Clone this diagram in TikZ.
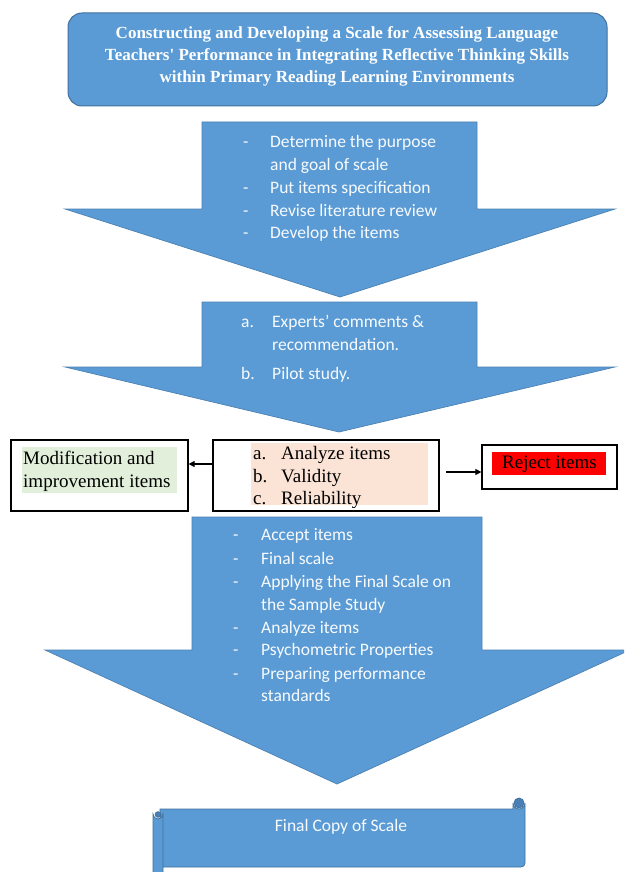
\documentclass[tikz,border=0pt]{standalone}
\usepackage{fontspec}
\setmainfont{Liberation Serif}
\newfontfamily\calibri{Carlito}
\usetikzlibrary{arrows.meta}
\definecolor{wblue}{HTML}{5B9BD5}
\definecolor{wedge}{HTML}{41719C}
\definecolor{wcurl}{HTML}{4A80B8}
\definecolor{wpink}{HTML}{FBE4D5}
\definecolor{wgreen}{HTML}{E2EFDA}
\definecolor{wred}{HTML}{FF0000}
\begin{document}
\begin{tikzpicture}[x=1pt,y=-1pt,
  bigarrow/.style={fill=wblue, draw=wedge!60!wblue, line width=0.7pt, line join=miter},
  wtext/.style={font=\calibri\fontsize{17.5}{23}\selectfont, text=white!96!wblue, anchor=base west, inner sep=0pt},
  ttext/.style={font=\fontsize{19}{23}\selectfont, anchor=base west, inner sep=0pt},
  titletext/.style={font=\bfseries\fontsize{17}{21}\selectfont, text=white, anchor=base, inner sep=0pt},
  frame/.style={draw=black, line width=1.2pt, fill=white, inner sep=0pt},
  conn/.style={line width=1.1pt, -{Triangle[length=6pt,width=6pt]}},
  scroll/.style={fill=wblue, draw=wedge, line width=0.8pt}]
\clip (0,0) rectangle (624,872);
\fill[white] (0,0) rectangle (624,872);

% title
\node[fill=wblue, draw=wedge, line width=1pt, rounded corners=14pt,
      minimum width=539pt, minimum height=93pt, inner sep=0pt] (title) at (337.5,59.5) {};
\node[titletext] (t1) at (337,39) {Constructing and Developing a Scale for Assessing Language};
\node[titletext] (t2) at (337,61) {Teachers\textquotesingle{} Performance in Integrating Reflective Thinking Skills};
\node[titletext] (t3) at (337,82.5) {within Primary Reading Learning Environments};

% arrow 1
\filldraw[bigarrow] (202,122) -- (477,122) -- (477,209) -- (615,209) -- (340,297) -- (65,209) -- (202,209) -- cycle;
\node[wtext] (a1d1) at (243,147.3) {-};
\node[wtext] (a1l1) at (270,147.3) {Determine the purpose};
\node[wtext] (a1l2) at (270,170) {and goal of scale};
\node[wtext] (a1d3) at (243,193) {-};
\node[wtext] (a1l3) at (270,193) {Put items specification};
\node[wtext] (a1d4) at (243,216) {-};
\node[wtext] (a1l4) at (270,216) {Revise literature review};
\node[wtext] (a1d5) at (243,238.5) {-};
\node[wtext] (a1l5) at (270,238.5) {Develop the items};

% arrow 2
\filldraw[bigarrow] (202,302) -- (477,302) -- (477,367) -- (615,367) -- (339,432) -- (65,367) -- (202,367) -- cycle;
\node[wtext] (a2d1) at (241,327.3) {a.};
\node[wtext] (a2l1) at (272,327.3) {Experts’ comments \&};
\node[wtext] (a2l2) at (272,350) {recommendation.};
\node[wtext] (a2d3) at (241,379.3) {b.};
\node[wtext] (a2l3) at (272,379.3) {Pilot study.};

% arrow 3
\filldraw[bigarrow] (192,517) -- (482,517) -- (482,650) -- (630,650) -- (337,784) -- (45,650) -- (192,650) -- cycle;
\node[wtext] (a3d1) at (233,540.7) {-};
\node[wtext] (a3l1) at (261,540.7) {Accept items};
\node[wtext] (a3d2) at (233,564) {-};
\node[wtext] (a3l2) at (261,564) {Final scale};
\node[wtext] (a3d3) at (233,587.3) {-};
\node[wtext] (a3l3) at (261,587.3) {Applying the Final Scale on};
\node[wtext] (a3l4) at (261,610) {the Sample Study};
\node[wtext] (a3d5) at (233,633.3) {-};
\node[wtext] (a3l5) at (261,633.3) {Analyze items};
\node[wtext] (a3d6) at (233,655.7) {-};
\node[wtext] (a3l6) at (261,655.7) {Psychometric Properties};
\node[wtext] (a3d7) at (233,679) {-};
\node[wtext] (a3l7) at (261,679) {Preparing performance};
\node[wtext] (a3l8) at (261,701.7) {standards};

% middle row boxes
\node[frame, minimum width=177pt, minimum height=71pt] (left) at (99.5,475.5) {};
\node[frame, minimum width=226pt, minimum height=71pt] (mid) at (326,475.5) {};
\node[frame, minimum width=135pt, minimum height=44pt] (right) at (549.5,467) {};
\fill[wgreen] (22,447) rectangle (177,493);
\fill[wpink] (251,443) rectangle (428,505);
\fill[wred] (492,452) rectangle (606,475);

\node[ttext] (l1) at (23,464.3) {Modification and};
\node[ttext] (l2) at (23,487.3) {improvement items};
\begin{scope}
\clip (214,441) rectangle (438,507);
\node[ttext] (m1d) at (253,459.3) {a.};
\node[ttext] (m1) at (281,459.3) {Analyze items};
\node[ttext] (m2d) at (253,482.5) {b.};
\node[ttext] (m2) at (281,482.5) {Validity};
\node[ttext] (m3d) at (253,504) {c.};
\node[ttext] (m3) at (281,504) {Reliability};
\end{scope}
\node[ttext] (r1) at (502,468.3) {Reject items};

\coordinate (la) at (213,464);
\draw[conn] (la) -- (la -| left.east);
\coordinate (ra) at (446,472);
\draw[conn] (ra) -- (ra -| right.west);

% scroll
\filldraw[scroll] (160,809) -- (513,809) -- (513,803) arc[start angle=180, end angle=0, radius=6] -- (525,863) arc[start angle=0, end angle=90, radius=4] -- (160,867) -- cycle;
\filldraw[scroll, fill=wcurl] (519,803) circle[radius=5];
\filldraw[scroll] (153,890) -- (153,814) arc[start angle=180, end angle=0, radius=5] -- (163,890) -- cycle;
\filldraw[scroll, fill=wcurl] (158,814.5) circle[radius=2.8];
\node[wtext, anchor=base] (final) at (341,831.5) {Final Copy of Scale};
\end{tikzpicture}
\end{document}
